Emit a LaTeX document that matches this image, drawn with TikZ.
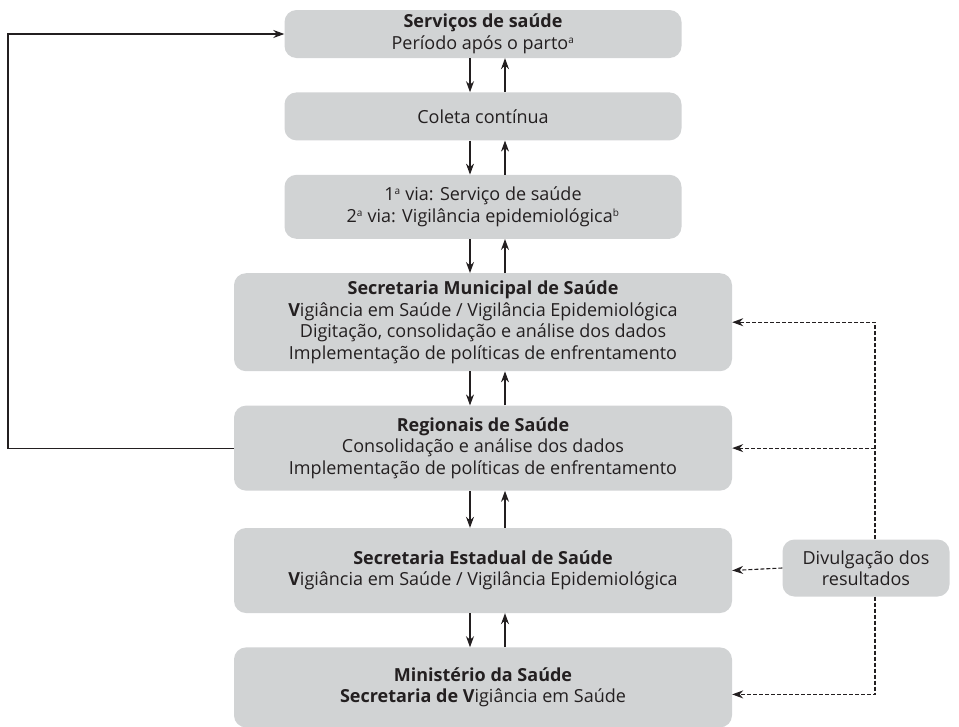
\documentclass[tikz,border=0pt]{standalone}
\usepackage{fontspec}
\setmainfont{Open Sans}
\usetikzlibrary{positioning, arrows.meta}
\definecolor{boxgray}{RGB}{209,211,212}
\definecolor{inkgray}{RGB}{35,31,32}
\newcommand{\supmark}[1]{\textsuperscript{\fontsize{10}{10}\selectfont #1}}

\begin{document}
\begin{tikzpicture}[x=1pt, y=1pt, node distance=34pt, font=\fontsize{18}{21.5}\selectfont, text=inkgray]
\tikzset{
  stagebox/.style={rectangle, fill=boxgray, rounded corners=12pt, minimum width=397pt, align=center, inner sep=0pt},
  widebox/.style={stagebox, minimum width=498pt},
  flow/.style={-{Stealth[length=11pt, width=8pt]}, draw=inkgray, line width=1.1pt},
  dashflow/.style={flow, dash pattern=on 4pt off 2pt}
}
\useasboundingbox (0,0) rectangle (959,-726);

% Upper boxes - services and collection
\node[stagebox, minimum height=48pt] (serv) at (483,-34) {
\textbf{Serviços de saúde} \\
Período após o parto\supmark{a}
};
\node[stagebox, minimum height=48pt, below=of serv] (coleta) {Coleta contínua};
\node[stagebox, minimum height=64pt, below=of coleta] (vias) {
1\supmark{a} via: Serviço de saúde \\
2\supmark{a} via: Vigilância epidemiológica\supmark{b}
};

% Management levels
\node[widebox, minimum height=98pt, below=of vias] (muni) {
\textbf{Secretaria Municipal de Saúde} \\
\textbf{V}igiância em Saúde / Vigilância Epidemiológica \\
Digitação, consolidação e análise dos dados \\
Implementação de políticas de enfrentamento
};
\node[widebox, minimum height=85pt, below=of muni] (reg) {
\textbf{Regionais de Saúde} \\
Consolidação e análise dos dados \\
Implementação de políticas de enfrentamento
};
\node[widebox, minimum height=85pt, below=37pt of reg] (estad) {
\textbf{Secretaria Estadual de Saúde} \\
\textbf{V}igiância em Saúde / Vigilância Epidemiológica
};
\node[widebox, minimum height=80pt, below=of estad] (minis) {
\textbf{Ministério da Saúde} \\
\textbf{Secretaria de V}igiância em Saúde
};

% Results box
\node[stagebox, minimum width=167pt, minimum height=57pt] (divulg) at (866,-568) {
Divulgação dos \\
resultados
};

% Two-way flows between levels
\foreach \a/\b in {serv/coleta, coleta/vias, vias/muni, muni/reg, reg/estad, estad/minis} {
  \draw[flow] ([xshift=-13pt]\a.south) -- ([xshift=-13pt]\b.north);
  \draw[flow] ([xshift=22pt]\b.north) -- ([xshift=22pt]\a.south);
}

% Feedback to services
\coordinate (back) at (8,0);
\draw[flow] (reg.west) -- (reg.west -| back) |- (serv.west);

% Dissemination of results
\coordinate (trunk) at ([xshift=9pt]divulg.north);
\draw[dashflow] (trunk) |- (muni.east);
\draw[dashflow] (trunk |- reg.east) -- (reg.east);
\draw[dashflow] (divulg.west) -- (estad.east);
\draw[dashflow] ([xshift=9pt]divulg.south) |- ([yshift=-7pt]minis.east);

\end{tikzpicture}
\end{document}
